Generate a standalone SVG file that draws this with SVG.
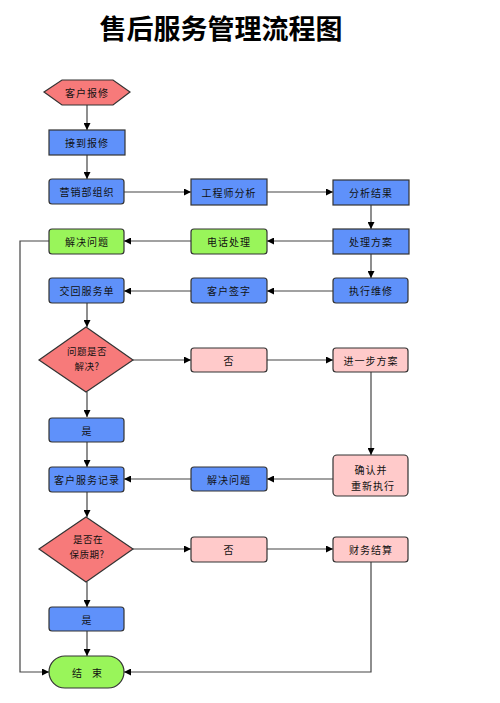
<svg xmlns="http://www.w3.org/2000/svg" width="500" height="703" viewBox="0 0 500 703">
<style>
.n{stroke:#333;stroke-width:1.2}
.b{fill:#5f91fa}
.g{fill:#99f55a}
.p{fill:#ffcaca}
.r{fill:#f77a7a}
.t{font-family:"Noto Sans CJK SC","Liberation Sans",sans-serif;font-size:10px;fill:#111;text-anchor:middle;dominant-baseline:central;letter-spacing:1px}
.d{font-size:9.5px;letter-spacing:0.5px}
.c{fill:none;stroke:#444;stroke-width:1.2}
.title{font-family:"Noto Sans CJK SC",sans-serif;font-size:27px;font-weight:bold;fill:#000;text-anchor:middle}
</style>
<defs>
<marker id="a" viewBox="0 0 10 10" refX="10" refY="5" markerWidth="7" markerHeight="7" orient="auto" markerUnits="userSpaceOnUse">
<path d="M0,0 L10,5 L0,10 z" fill="#000"/>
</marker>
</defs>
<text class="title" x="221" y="39">售后服务管理流程图</text>
<g id="connectors">
<path class="c" marker-end="url(#a)" d="M87,105 V130"/>
<path class="c" marker-end="url(#a)" d="M87,155 V179"/>
<path class="c" marker-end="url(#a)" d="M124,192 H191"/>
<path class="c" marker-end="url(#a)" d="M267,192 H333"/>
<path class="c" marker-end="url(#a)" d="M371,205 V229"/>
<path class="c" marker-end="url(#a)" d="M333,241 H267"/>
<path class="c" marker-end="url(#a)" d="M191,241 H124"/>
<path class="c" marker-end="url(#a)" d="M49,241 H20 V672 H49"/>
<path class="c" marker-end="url(#a)" d="M371,254 V278"/>
<path class="c" marker-end="url(#a)" d="M333,291 H267"/>
<path class="c" marker-end="url(#a)" d="M191,291 H124"/>
<path class="c" marker-end="url(#a)" d="M87,303 V327"/>
<path class="c" marker-end="url(#a)" d="M133,360 H191"/>
<path class="c" marker-end="url(#a)" d="M267,360 H333"/>
<path class="c" marker-end="url(#a)" d="M371,372 V455"/>
<path class="c" marker-end="url(#a)" d="M333,479 H267"/>
<path class="c" marker-end="url(#a)" d="M191,479 H124"/>
<path class="c" marker-end="url(#a)" d="M87,392 V417"/>
<path class="c" marker-end="url(#a)" d="M87,442 V467"/>
<path class="c" marker-end="url(#a)" d="M87,492 V517"/>
<path class="c" marker-end="url(#a)" d="M133,549 H191"/>
<path class="c" marker-end="url(#a)" d="M267,549 H333"/>
<path class="c" marker-end="url(#a)" d="M87,582 V607"/>
<path class="c" marker-end="url(#a)" d="M87,631 V656"/>
<path class="c" marker-end="url(#a)" d="M371,562 V672 H124"/>
</g>
<g id="n1"><polygon class="n r" points="44,92 62,80 113,80 130,92 113,105 62,105"/><text class="t" x="87" y="92">客户报修</text></g>
<g id="n2"><rect class="n b" x="49" y="130" width="76" height="25"/><text class="t" x="87" y="142.5">接到报修</text></g>
<g id="n3"><rect class="n b" x="49" y="179" width="75" height="25" rx="3"/><text class="t" x="87" y="191.5">营销部组织</text></g>
<g id="n4"><rect class="n b" x="191" y="179" width="76" height="26"/><text class="t" x="229" y="192">工程师分析</text></g>
<g id="n5"><rect class="n b" x="333" y="180" width="76" height="25"/><text class="t" x="371" y="192.5">分析结果</text></g>
<g id="n6"><rect class="n b" x="333" y="229" width="76" height="25"/><text class="t" x="371" y="241.5">处理方案</text></g>
<g id="n7"><rect class="n g" x="191" y="229" width="76" height="25" rx="3"/><text class="t" x="229" y="241.5">电话处理</text></g>
<g id="n8"><rect class="n g" x="49" y="229" width="75" height="25" rx="3"/><text class="t" x="87" y="241.5">解决问题</text></g>
<g id="n9"><rect class="n b" x="333" y="278" width="75" height="25" rx="3"/><text class="t" x="371" y="290.5">执行维修</text></g>
<g id="n10"><rect class="n b" x="191" y="278" width="76" height="25" rx="3"/><text class="t" x="229" y="290.5">客户签字</text></g>
<g id="n11"><rect class="n b" x="49" y="278" width="75" height="25" rx="3"/><text class="t" x="87" y="290.5">交回服务单</text></g>
<g id="n12"><polygon class="n r" points="86,327 133,360 86,392 39,360"/><text class="t d" x="87" y="351">问题是否</text><text class="t d" x="87" y="366">解决?</text></g>
<g id="n13"><rect class="n p" x="191" y="348" width="76" height="24" rx="3"/><text class="t" x="229" y="360">否</text></g>
<g id="n14"><rect class="n p" x="333" y="348" width="75" height="24" rx="3"/><text class="t" x="371" y="360">进一步方案</text></g>
<g id="n15"><rect class="n b" x="49" y="418" width="75" height="24" rx="3"/><text class="t" x="87" y="430">是</text></g>
<g id="n16"><rect class="n p" x="333" y="455" width="75" height="41" rx="4"/><text class="t" x="371" y="469">确认并</text><text class="t" x="373" y="485">重新执行</text></g>
<g id="n17"><rect class="n b" x="191" y="467" width="76" height="24" rx="3"/><text class="t" x="229" y="479">解决问题</text></g>
<g id="n18"><rect class="n b" x="49" y="467" width="75" height="25" rx="3"/><text class="t" x="87" y="479.5">客户服务记录</text></g>
<g id="n19"><polygon class="n r" points="86,517 133,549 86,582 39,549"/><text class="t d" x="88" y="539">是否在</text><text class="t d" x="87" y="554">保质期?</text></g>
<g id="n20"><rect class="n p" x="191" y="537" width="76" height="25" rx="3"/><text class="t" x="229" y="549.5">否</text></g>
<g id="n21"><rect class="n p" x="333" y="537" width="75" height="25" rx="3"/><text class="t" x="371" y="549.5">财务结算</text></g>
<g id="n22"><rect class="n b" x="49" y="607" width="75" height="24" rx="3"/><text class="t" x="87" y="619">是</text></g>
<g id="n23"><rect class="n g" x="49" y="656" width="75" height="32" rx="16"/><text class="t" x="87" y="672" style="letter-spacing:0">结　束</text></g>
</svg>
